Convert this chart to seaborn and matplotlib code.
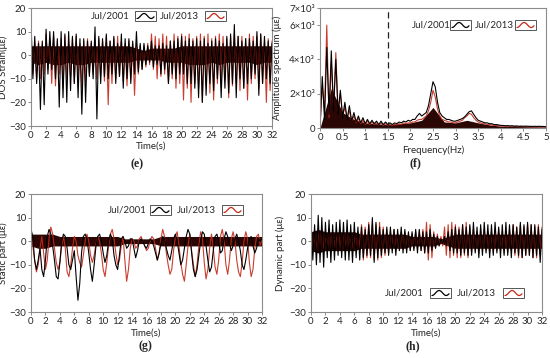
import numpy as np
import pandas as pd
import matplotlib
matplotlib.use("Agg")
import matplotlib.pyplot as plt
import seaborn as sns

# ---------------- data ----------------
time_step = 0.25
# (e) DOS strain
dos_2001 = [14, -10, 8, -12, 5, -23, 6, -21, 11, -8, 10, -6, 10, -10, 7, -22,
            10, -18, 9, -20, 10, -15, 8, -12, 9, -18, 7, -25, 7, -20, 6, -9,
            6, -10, 12, -27, 8, -12, 7, -9, 9, -10, 6, -8, 8, -12, 5, -9,
            9, -14, 7, -10, 7, -12, 6, -8, 10, -7, 5, -6, 5, -4, 4, -3,
            6, -5, 4, -4, 4, -8, 5, -6, 4, -12, 6, -8, 6, -10, 7, -8,
            8, -8, 6, -12, 7, -12, 6, -14, 7, -18, 6, -20, 7, -17, 5, -12,
            6, -15, 7, -10, 6, -18, 5, -14, 8, -16, 9, -12, 13, -18, 8, -10,
            6, -14, 7, -12, 7, -10, 6, -8, 10, -17, 9, -12, 8, -10, 6, -12, 5]
dos_2013 = [6, -8, 5, -10, 6, -10, 5, -8, 9, -6, 7, -12, 8, -13, 6, -8,
            7, -14, 8, -10, 6, -9, 7, -12, 8, -10, 5, -14, 6, -11, 7, -8,
            5, -8, 6, -10, 7, -9, 6, -11, 8, -21, 6, -12, 7, -10, 8, -9,
            6, -11, 5, -13, 6, -10, 5, -17, 5, -8, 4, -6, 4, -5, 5, -4,
            9, -6, 8, -10, 7, -9, 9, -8, 8, -12, 6, -10, 9, -14, 8, -12,
            9, -19, 8, -14, 9, -20, 7, -12, 8, -14, 9, -20, 8, -13, 9, -16,
            7, -19, 8, -12, 9, -14, 8, -10, 7, -18, 8, -13, 9, -12, 8, -15,
            8, -14, 7, -19, 9, -12, 8, -10, 8, -14, 9, -12, 6, -20, 7, -15, 6]
# dense core band of the DOS records, one value per second
dos_core_hi = [4, 4, 4, 4, 4, 4, 4, 4, 4, 4, 4, 4, 4, 4, 3, 2, 3,
               3, 3, 3, 4, 4, 4, 4, 4, 4, 4, 4, 4, 4, 4, 4, 4]
dos_core_lo = [-3, -4, -3, -4, -4, -3, -4, -4, -3, -3, -3, -3, -3, -3, -2, -2, -2,
               -2, -3, -3, -3, -4, -4, -4, -3, -4, -3, -3, -3, -3, -4, -3, -3]
# (g) static part
static_2001 = [5, 2, -8, -12, -8, -3, -12, -15, -8, 2, 5, 3, -2, -8, -15, -16,
               -9, 0, 3, 2, -3, -10, -12, -8, -4, -15, -25, -18, -5, 2, 3, 1,
               -5, -12, -17, -10, -2, 2, 3, 0, -5, -9, -6, 0, 3, 1, -6, -10,
               -12, -6, 1, 2, 0, -3, -2, 1, 1, -3, -7, -4, 0, 1, 0, -2,
               -3, -1, 1, 0, -2, -5, -8, -5, -1, 2, 1, -3, -6, -8, -4, 1,
               3, 0, -5, -10, -8, -3, 2, 5, 3, -5, -12, -15, -12, -6, 0, 4,
               3, -2, -8, -13, -11, -4, 2, 3, 0, -5, -4, 1, 4, 2, -1, -4,
               -2, 1, 3, 0, -4, -10, -12, -8, -3, 1, 2, -2, -5, -3, 1, 0, 1]
static_2013 = [3, -2, -8, -13, -10, -3, 2, -5, -12, -8, 1, 6, 3, -3, -9, -12,
               -9, -2, 2, -3, -13, -15, -10, -3, 2, 0, -6, -9, -11, -6, 0, 3,
               0, -6, -9, -6, -1, 2, 0, -5, -12, -15, -9, -2, 3, 5, 1, -5,
               -10, -8, -2, 2, -8, -17, -12, -3, 1, 0, -3, -2, 1, 2, 0, -2,
               -4, -3, 0, 2, 1, -3, -8, -5, 1, 5, 2, -5, -10, -14, -12, -4,
               2, 4, -2, -9, -14, -17, -10, -2, 3, -4, -10, -15, -10, -2, 4, 1,
               -9, -16, -12, -3, 3, -3, -11, -14, -8, 2, 5, 0, -10, -14, -8, 1,
               4, 0, -8, -13, -15, -9, 0, 4, 1, -9, -15, -12, -3, 2, 3, -2, 1]
static_core_hi = [3, 3, 3, 3, 2, 2, 2, 2, 2, 2, 2, 2, 2, 1, 1, 1, 1,
                  1, 2, 2, 2, 2, 2, 2, 2, 2, 2, 2, 2, 2, 2, 2, 2]
static_core_lo = [-2, -3, -3, -2, -2, -2, -2, -2, -2, -2, -2, -2, -2, -1, -1, -1, -1,
                  -1, -2, -2, -2, -2, -2, -2, -2, -2, -2, -2, -2, -2, -2, -2, -2]
# (h) dynamic part
dyn_2001 = [9, -8, 7, -10, 11, -9, 10, -11, 8, -7, 9, -9, 7, -8, 8, -6,
            9, -7, 8, -8, 9, -8, 7, -9, 8, -7, 6, -8, 6, -7, 5, -6,
            7, -6, 10, -9, 8, -7, 6, -6, 5, -5, 6, -6, 6, -5, 5, -6,
            5, -4, 6, -5, 5, -5, 4, -4, 4, -4, 5, -5, 5, -4, 4, -5,
            4, -5, 5, -4, 3, -3, 2, -2, 1, -1, 2, -2, 4, -4, 5, -5,
            6, -5, 5, -6, 7, -5, 6, -6, 7, -6, 8, -5, 6, -7, 7, -6,
            8, -5, 7, -7, 7, -6, 8, -5, 6, -7, 7, -6, 8, -6, 7, -7,
            7, -5, 6, -6, 8, -7, 7, -6, 8, -6, 7, -7, 7, -6, 6, -9, 5]
dyn_2013 = [4, -5, 3, -4, 4, -3, 5, -4, 3, -4, 4, -3, 4, -3, 3, -4,
            3, -4, 4, -3, 4, -3, 3, -4, 3, -4, 4, -3, 7, -8, 6, -7,
            8, -7, 7, -8, 7, -8, 8, -7, 6, -6, 5, -5, 4, -3, 5, -4,
            3, -4, 4, -3, 4, -3, 3, -4, 3, -3, 4, -3, 4, -4, 5, -5,
            8, -8, 7, -7, 4, -3, 3, -2, 2, -2, 6, -6, 7, -7, 8, -6,
            7, -7, 6, -7, 7, -6, 8, -7, 6, -5, 5, -4, 4, -5, 5, -4,
            5, -4, 4, -5, 4, -5, 5, -4, 5, -4, 4, -5, 4, -5, 5, -4,
            7, -6, 6, -7, 7, -7, 6, -6, 7, -6, 7, -7, 6, -7, 7, -6, 6]
dyn_core_hi = [4, 5, 4, 4, 4, 4, 4, 3, 3, 3, 3, 3, 3, 3, 2, 2, 2,
               2, 1, 2, 3, 3, 3, 3, 3, 3, 3, 3, 3, 3, 3, 3, 3]
dyn_core_lo = [-4, -5, -4, -4, -4, -4, -4, -3, -3, -3, -3, -3, -3, -3, -2, -2, -2,
               -2, -1, -2, -3, -3, -3, -3, -3, -3, -3, -3, -3, -3, -3, -3, -3]
# (f) amplitude spectrum, 0..5 Hz step 0.05
freq_step = 0.05
spec_2001 = [0, 3000, 500, 4700, 800, 4500, 1000, 4000, 800, 2200, 600, 1500, 500, 1300,
             400, 900, 350, 700, 300, 600, 250, 500, 250, 450, 250, 400, 200, 400, 200,
             350, 200, 300, 200, 300, 250, 350, 300, 400, 350, 450, 400, 500, 500, 700,
             850, 700, 800, 900, 1300, 2000, 2700, 2400, 1500, 900, 700, 600, 500, 500,
             450, 400, 400, 450, 500, 550, 650, 800, 950, 1000, 800, 600, 450, 400, 350,
             300, 300, 250, 250, 200, 200, 180, 150,
             150, 130, 140, 120, 130, 110, 120, 100, 110, 100, 110, 100, 100, 90, 100,
             90, 100, 90, 90, 80]
spec_2013 = [0, 2500, 1000, 6000, 600, 3800, 1200, 4400, 1000, 2000, 700, 1200, 600, 1000,
             400, 700, 300, 550, 250, 450, 200, 400, 200, 350, 200, 300, 180, 300, 150,
             250, 150, 200, 150, 200, 180, 250, 200, 300, 250, 300, 300, 350, 350, 450,
             500, 500, 600, 700, 1000, 1500, 2200, 1800, 1100, 700, 500, 450, 400, 350,
             350, 300, 300, 350, 400, 450, 600, 700, 850, 800, 600, 450, 350, 300, 250,
             250, 200, 200, 180, 150, 150, 130, 120,
             110, 100, 110, 90, 100, 90, 90, 80, 90, 80, 80, 70, 80, 70, 70, 60, 70, 60,
             60, 50]
# dense lower part of the spectra, 0..5 Hz step 0.25
spec_core_step = 0.25
spec_core = [0, 2300, 900, 500, 300, 250, 200, 250, 300, 450, 1200, 350, 300, 450,
             300, 180, 110, 90, 80, 70, 60]

legend_labels = ["Jul/2001", "Jul/2013"]
time_ticks = list(range(0, 33, 2))
strain_ticks = [-30, -20, -10, 0, 10, 20]
freq_ticks = [0, 0.5, 1, 1.5, 2, 2.5, 3, 3.5, 4, 4.5, 5]
freq_ticklabels = ["0", "0.5", "1", "1.5", "2", "2.5", "3", "3.5", "4", "4.5", "5"]
spec_ticks = [0, 2000, 4000, 6000, 7000]
spec_ticklabels = ["0", "2×10³", "4×10³", "6×10³", "7×10³"]
cutoff_freq = 1.5

# ---------------- style ----------------
sns.set_theme(style="ticks")
plt.rcParams["font.family"] = ["Lato", "DejaVu Sans"]
FS = 7
C01 = "#000000"
C13 = "#c42818"
CORE = "#2a0604"
SPINE = "#8c8c8c"

W, H = 550, 358
fig = plt.figure(figsize=(W / 100, H / 100), dpi=100)


def px_axes(l, t, r, b):
    ax = fig.add_axes([l / W, 1 - b / H, (r - l) / W, (b - t) / H])
    return ax, (r - l), (b - t)


def style(ax):
    for s in ax.spines.values():
        s.set_color(SPINE)
        s.set_linewidth(0.8)
    ax.tick_params(labelsize=FS, length=2.5, width=0.7, color=SPINE, pad=1)


def series_df(vals, step):
    return pd.DataFrame({"x": np.arange(len(vals)) * step, "y": vals})


def legend(xt, y, boxes, color_list):
    # decoration: text + small boxes with a wave icon (pixel positions)
    for (tx, bx), lab, c in zip(zip(xt, boxes), legend_labels, color_list):
        fig.text(tx / W, 1 - y / H, lab, fontsize=FS, va="center", ha="left")
        bw, bh = 21, 10
        fig.patches.append(plt.Rectangle((bx / W, 1 - (y + bh / 2) / H), bw / W, bh / H,
                                         transform=fig.transFigure, fill=False,
                                         edgecolor="#555555", lw=0.7))
        wx = np.linspace(bx + 2, bx + bw - 2, 30)
        wy = y + 2.5 * np.cos((wx - bx - 2) / (bw - 4) * 2 * np.pi * 1.2)
        fig.lines.append(plt.Line2D(wx / W, 1 - wy / H, transform=fig.transFigure,
                                    color=c, lw=0.9))


def label_pos(ax, w, h, ylab_dx, xlab_dy):
    ax.yaxis.set_label_coords(ylab_dx / w, 0.5)
    ax.xaxis.set_label_coords(0.5, -xlab_dy / h)


def time_panel(ax, a, b, hi, lo, ylabel):
    sec = np.arange(len(hi))
    ax.fill_between(sec, lo, hi, color=CORE, lw=0, zorder=1.5)
    sns.lineplot(data=series_df(b, time_step), x="x", y="y", ax=ax, color=C13, lw=0.8,
                 alpha=0.9, zorder=2)
    sns.lineplot(data=series_df(a, time_step), x="x", y="y", ax=ax, color=C01, lw=0.8,
                 zorder=2.5)
    ax.set_xlim(0, 32)
    ax.set_ylim(-30, 20)
    ax.set_xticks(time_ticks)
    ax.set_yticks(strain_ticks)
    ax.set_xlabel("Time(s)", fontsize=FS)
    ax.set_ylabel(ylabel, fontsize=FS)
    style(ax)


ax_e, we, he = px_axes(31, 8, 272, 126)
time_panel(ax_e, dos_2001, dos_2013, dos_core_hi, dos_core_lo, "DOS Strain(με)")
label_pos(ax_e, we, he, -23, 16)
ax_g, wg, hg = px_axes(31, 194, 262, 312)
time_panel(ax_g, static_2001, static_2013, static_core_hi, static_core_lo, "Static part (με)")
label_pos(ax_g, wg, hg, -23, 17)
ax_h, wh, hh = px_axes(311, 194, 542, 312)
time_panel(ax_h, dyn_2001, dyn_2013, dyn_core_hi, dyn_core_lo, "Dynamic part (με)")
label_pos(ax_h, wh, hh, -26, 17)

ax_f, wf, hf = px_axes(320, 8, 546, 128)
ax_f.fill_between(np.arange(len(spec_core)) * spec_core_step, 0, spec_core, color=CORE,
                  lw=0, zorder=1.5)
sns.lineplot(data=series_df(spec_2013, freq_step), x="x", y="y", ax=ax_f, color=C13, lw=0.8,
             alpha=0.9, zorder=2)
sns.lineplot(data=series_df(spec_2001, freq_step), x="x", y="y", ax=ax_f, color=C01, lw=0.8,
             zorder=2.5)
ax_f.axvline(cutoff_freq, color="#222222", lw=0.9, ls=(0, (5, 3)), zorder=4)
ax_f.set_xlim(0, 5)
ax_f.set_ylim(0, 7000)
ax_f.set_xticks(freq_ticks)
ax_f.set_xticklabels(freq_ticklabels)
ax_f.set_yticks(spec_ticks)
ax_f.set_yticklabels(spec_ticklabels)
ax_f.set_xlabel("Frequency(Hz)", fontsize=FS)
ax_f.set_ylabel("Amplitude spectrum (με)", fontsize=FS)
style(ax_f)
label_pos(ax_f, wf, hf, -38, 17)

legend([91, 160], 16, [135, 205], [C01, C13])
legend([412, 475], 25, [450, 515], [C01, C13])
legend([108, 177], 210, [150, 222], [C01, C13])
legend([385, 457], 293, [430, 503], [C01, C13])

for x, y, s in [(137, 164, "(e)"), (415, 163, "(f)"), (145, 346, "(g)"), (413, 346, "(h)")]:
    fig.text(x / W, 1 - y / H, s, fontsize=8.5, ha="center", va="center",
             family=["Liberation Serif", "DejaVu Serif"], fontweight="bold")

fig.savefig("out.png", dpi=100)
